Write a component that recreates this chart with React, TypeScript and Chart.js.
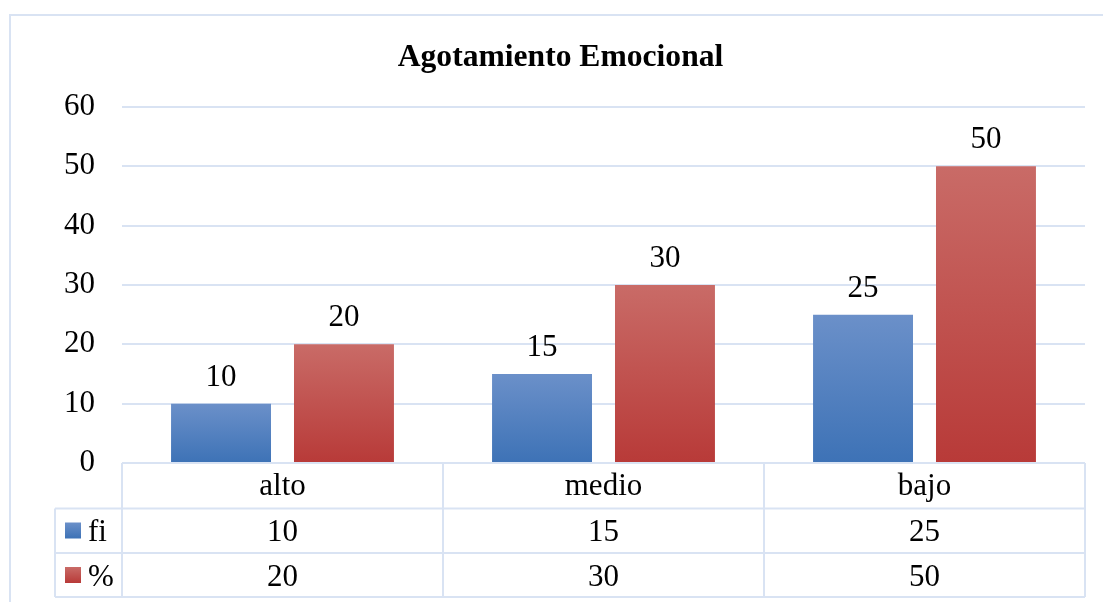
import React, { useEffect, useRef } from "react";
import { Chart, registerables } from "chart.js";

Chart.register(...registerables);

const chartTitle = "Agotamiento Emocional";
const categories = ["alto", "medio", "bajo"];
const seriesNames = ["fi", "%"];
const fiValues = [10, 15, 25];
const pctValues = [20, 30, 50];
const yMin = 0;
const yMax = 60;
const yStep = 10;

const FONT = "'Liberation Serif', 'Times New Roman', serif";
const GRID = "#D9E3F3";
const blueStops = ["#6B90C9", "#3D72B6"];
const redStops = ["#C96B67", "#B83A38"];

function barGradient(stops: string[]) {
  return (ctx: any) => {
    const chart = ctx.chart;
    const area = chart.chartArea;
    const ys = chart.scales?.y;
    if (!area || !ys || ctx.raw == null) return stops[1];
    const top = ys.getPixelForValue(ctx.raw);
    const bottom = ys.getPixelForValue(0);
    const g = chart.ctx.createLinearGradient(0, top, 0, bottom);
    g.addColorStop(0, stops[0]);
    g.addColorStop(1, stops[1]);
    return g;
  };
}

const decorPlugin = {
  id: "decor",
  afterDraw(chart: any) {
    const ctx = chart.ctx as CanvasRenderingContext2D;
    const area = chart.chartArea;
    const xs = chart.scales.x;
    ctx.save();

    // outer chart border (cropped on right/bottom)
    ctx.strokeStyle = GRID;
    ctx.lineWidth = 2;
    ctx.strokeRect(10, 15, 1101, 600);

    // title
    ctx.fillStyle = "#000";
    ctx.font = `bold 31.6px ${FONT}`;
    ctx.textAlign = "center";
    ctx.textBaseline = "alphabetic";
    ctx.fillText(chartTitle, 560.5, 66);

    // data labels
    ctx.font = `31px ${FONT}`;
    chart.data.datasets.forEach((ds: any, di: number) => {
      const meta = chart.getDatasetMeta(di);
      meta.data.forEach((bar: any, i: number) => {
        ctx.fillText(String(ds.data[i]), bar.x, bar.y - 18);
      });
    });

    // data table
    const left = area.left;
    const right = area.right;
    const colW = (right - left) / categories.length;
    const rowTop = area.bottom;
    const rows = [rowTop, 508.5, 553, 597];
    const legendLeft = 55;
    ctx.strokeStyle = GRID;
    ctx.lineWidth = 2;
    ctx.beginPath();
    ctx.moveTo(left, rows[0]);
    ctx.lineTo(right, rows[0]);
    for (let r = 1; r < rows.length; r++) {
      ctx.moveTo(legendLeft, rows[r]);
      ctx.lineTo(right, rows[r]);
    }
    ctx.moveTo(legendLeft, rows[1]);
    ctx.lineTo(legendLeft, rows[3]);
    for (let c = 0; c <= categories.length; c++) {
      const x = left + c * colW;
      ctx.moveTo(x, rows[0]);
      ctx.lineTo(x, rows[3]);
    }
    ctx.stroke();

    // table text
    ctx.fillStyle = "#000";
    ctx.font = `31px ${FONT}`;
    ctx.textAlign = "center";
    const baselines = [495, 541, 586];
    categories.forEach((cat, i) => {
      const cx = xs.getPixelForValue(i);
      ctx.fillText(cat, cx, baselines[0]);
      ctx.fillText(String(fiValues[i]), cx, baselines[1]);
      ctx.fillText(String(pctValues[i]), cx, baselines[2]);
    });

    // legend keys in table
    const keyStops = [blueStops, redStops];
    seriesNames.forEach((name, s) => {
      const rTop = rows[s + 1];
      const ky = rTop + 14;
      const g = ctx.createLinearGradient(0, ky, 0, ky + 16);
      g.addColorStop(0, keyStops[s][0]);
      g.addColorStop(1, keyStops[s][1]);
      ctx.fillStyle = g;
      ctx.fillRect(65, ky, 16, 16);
      ctx.fillStyle = "#000";
      ctx.textAlign = "left";
      ctx.fillText(name, 88, baselines[s + 1]);
    });

    ctx.restore();
  },
};

export default function App() {
  const ref = useRef<HTMLCanvasElement | null>(null);

  useEffect(() => {
    if (!ref.current) return;
    const chart = new Chart(ref.current, {
      type: "bar",
      data: {
        labels: categories,
        datasets: [
          {
            label: seriesNames[0],
            data: fiValues,
            backgroundColor: barGradient(blueStops),
            categoryPercentage: 0.766,
            barPercentage: 0.813,
          },
          {
            label: seriesNames[1],
            data: pctValues,
            backgroundColor: barGradient(redStops),
            categoryPercentage: 0.766,
            barPercentage: 0.813,
          },
        ],
      },
      options: {
        responsive: false,
        animation: false,
        layout: { padding: { left: 0, right: 18, top: 107, bottom: 139 } },
        plugins: {
          legend: { display: false },
          title: { display: false },
          tooltip: { enabled: false },
        },
        scales: {
          x: { display: false },
          y: {
            min: yMin,
            max: yMax,
            ticks: {
              stepSize: yStep,
              color: "#000",
              font: { family: FONT, size: 31 },
              padding: 27,
            },
            grid: { color: GRID, lineWidth: 2, drawTicks: false },
            border: { display: false },
            afterFit: (s: any) => {
              s.width = 122;
            },
          },
        },
      },
      plugins: [decorPlugin],
    });
    return () => chart.destroy();
  }, []);

  return (
    <div style={{ position: "absolute", left: 0, top: 0, width: 1103, height: 602, background: "#fff" }}>
      <canvas ref={ref} width={1103} height={602} />
    </div>
  );
}
